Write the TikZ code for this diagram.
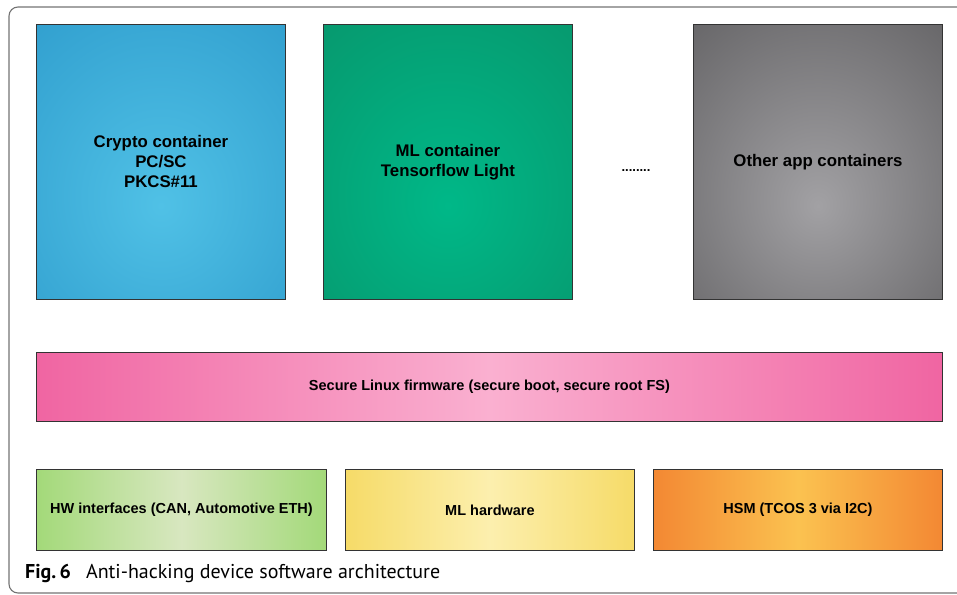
\documentclass[tikz,border=0pt]{standalone}
\usepackage{fontspec}
\setmainfont{Liberation Sans}
\newfontfamily\capfont{PT Sans}
\usetikzlibrary{positioning}

\definecolor{blueIn}{HTML}{50C1E6}
\definecolor{blueOut}{HTML}{2390C4}
\definecolor{greenIn}{HTML}{00B888}
\definecolor{greenOut}{HTML}{0A8A62}
\definecolor{grayIn}{HTML}{A2A1A4}
\definecolor{grayOut}{HTML}{4B4A4C}
\definecolor{pinkIn}{HTML}{FAB0D0}
\definecolor{pinkOut}{HTML}{F065A2}
\definecolor{limeIn}{HTML}{D8E7C0}
\definecolor{limeOut}{HTML}{A3D979}
\definecolor{yellowIn}{HTML}{FCEFAE}
\definecolor{yellowOut}{HTML}{F6DB68}
\definecolor{orangeIn}{HTML}{FBC250}
\definecolor{orangeOut}{HTML}{F38833}
\definecolor{edge}{HTML}{333333}

% radial fill that runs out to the corners
\pgfdeclareradialshading[boxin,boxout]{softradial}{\pgfpoint{0bp}{-8bp}}{%
  color(0bp)=(boxin); color(58bp)=(boxout); color(80bp)=(boxout)}

\tikzset{
  box/.style={draw=edge, line width=0.9pt, anchor=north west, align=center,
    inner sep=0pt, font=\fontsize{16.8}{20}\selectfont\bfseries},
  container/.style 2 args={box, minimum width=249pt, minimum height=275pt,
    /utils/exec={\colorlet{boxin}{#1}\colorlet{boxout}{#2}}, shading=softradial},
  layer/.style 2 args={box, left color=#2, right color=#2, middle color=#1,
    font=\fontsize{14.5}{17}\selectfont\bfseries}
}

\begin{document}
\begin{tikzpicture}[x=1pt, y=-1pt]
   \useasboundingbox (0,0) rectangle (957,594);
   \clip (0,0) rectangle (957,594);
   \draw[draw=black!55, line width=1.1pt, rounded corners=9pt] (9,7) rectangle (990,593);

   \node[container={blueIn}{blueOut}] (crypto) at (36,24)
      {Crypto container\\PC/SC\\PKCS\#11};
   \node[container={greenIn}{greenOut}, text depth=4pt] (ml) at (323,24)
      {ML container\\Tensorflow Light};
   \node[container={grayIn}{grayOut}, text depth=4pt] (other) at (693,24)
      {Other app containers};
   \node[font=\fontsize{13}{16}\selectfont\bfseries] (dots) at (636,171) {........};

   \node[layer={pinkIn}{pinkOut}, minimum width=906pt, minimum height=69pt] (linux) at (36,352)
      {Secure Linux firmware (secure boot, secure root FS)};

   \node[layer={limeIn}{limeOut}, minimum width=290pt, minimum height=81pt] (hw) at (36,469)
      {HW interfaces (CAN, Automotive ETH)};
   \node[layer={yellowIn}{yellowOut}, minimum width=289pt, minimum height=81pt] (mlhw) at (345,469)
      {ML hardware};
   \node[layer={orangeIn}{orangeOut}, minimum width=289pt, minimum height=81pt] (hsm) at (653,469)
      {HSM (TCOS 3 via I2C)};

   \node[anchor=west, inner sep=0pt, font=\capfont\fontsize{20}{23}\selectfont] (caption) at (25,573)
      {\textbf{Fig.\,6}\hspace{0.75em}Anti-hacking device software architecture};
\end{tikzpicture}
\end{document}
